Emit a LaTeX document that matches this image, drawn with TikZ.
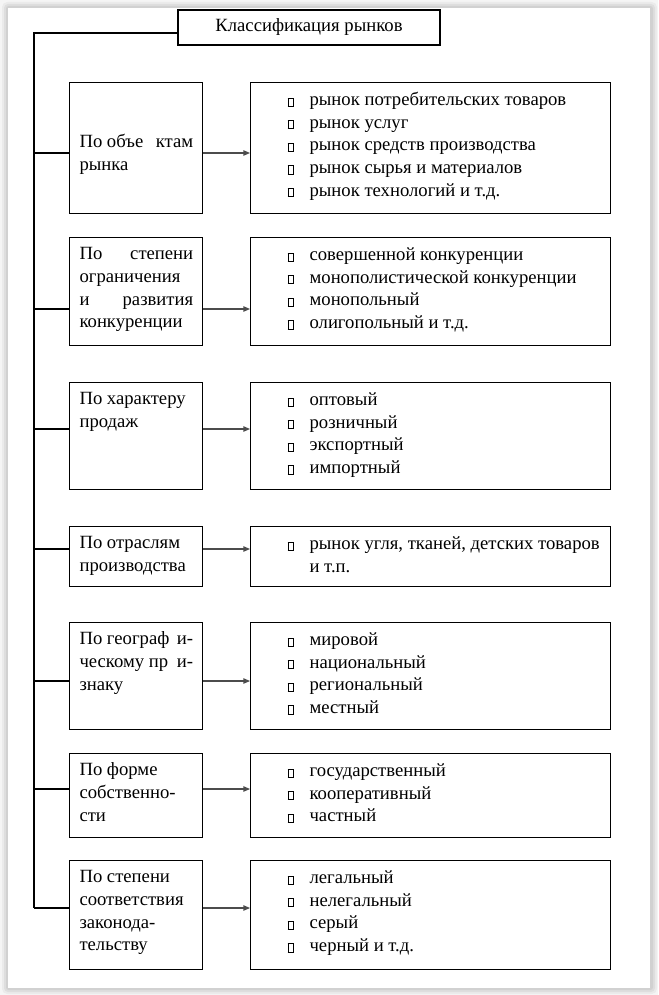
\documentclass[tikz,border=0pt]{standalone}
\usepackage{fontspec}
\setmainfont{Liberation Serif}
\usetikzlibrary{arrows.meta, positioning}

\newcommand{\sqmark}{{\setlength{\fboxsep}{0pt}\setlength{\fboxrule}{0.75pt}\fbox{\rule{0pt}{5.4pt}\rule{3.6pt}{0pt}}}}
\newcommand{\critcell}[3]{\parbox[c][#1][t]{99.75pt}{\fontsize{14pt}{16.9pt}\selectfont\vspace*{#2}\leftskip=7.5pt\rightskip=7pt\strut#3}}
\newcommand{\kindcell}[2]{\parbox[c][#1][t]{270pt}{\fontsize{14pt}{16.9pt}\selectfont\vspace*{5.7pt}\hspace*{27.75pt}\begin{tabular}[t]{@{}p{16.5pt}@{}l@{}}#2\end{tabular}}}

\begin{document}
\begin{tikzpicture}[
  x=0.75pt, y=-0.75pt,
  titlebox/.style={draw, line width=0.8pt, minimum width=196.5pt, minimum height=26.25pt, inner sep=0pt, font=\fontsize{14pt}{16.9pt}\selectfont},
  crit/.style={draw, line width=0.8pt, inner sep=0pt, anchor=north west},
  kind/.style={draw, line width=0.8pt, inner sep=0pt},
  link/.style={line width=0.8pt},
  edge/.style={-{Triangle[length=5pt,width=4pt]}, line width=0.9pt, draw=black!70}
]
\useasboundingbox (0,0) rectangle (658,995);
% page shadow
\fill[black!4] (0,0) rectangle (658,995);
\fill[black!8, rounded corners=4pt] (2,2) rectangle (657,994);
\fill[black!13, rounded corners=3pt] (4,4) rectangle (655,992);
\fill[black!18, rounded corners=2pt] (6,6) rectangle (653,990);
\fill[white] (8,8) rectangle (650,988);

\node[titlebox] (title) at (309,27.5) {Классификация рынков};

% criteria
\node[crit] (byobj) at (69,82) {\critcell{98.25pt}{37pt}{По объе\hfill ктам\\рынка}};
\node[crit] (bycomp) at (69,237) {\critcell{81pt}{5pt}{По\hfill степени\\ограничения\\и\hfill развития\\конкуренции}};
\node[crit] (bysale) at (69,382) {\critcell{80.25pt}{5pt}{По характеру\\продаж}};
\node[crit] (byind) at (69,526) {\critcell{45pt}{5pt}{По отраслям\\производства}};
\node[crit] (bygeo) at (69,622) {\critcell{80.25pt}{5pt}{По географ\hfill и-\\ческому пр\hfill и-\\знаку}};
\node[crit] (byown) at (69,753) {\critcell{63pt}{5pt}{По форме\\собственно-\\сти}};
\node[crit] (bylaw) at (69,860) {\critcell{81.75pt}{5pt}{По степени\\соответствия\\законода-\\тельству}};

% kinds of markets
\node[kind, right=35.25pt of byobj] (objlist) {\kindcell{98.25pt}{\sqmark & рынок потребительских товаров\\ \sqmark & рынок услуг\\ \sqmark & рынок средств производства\\ \sqmark & рынок сырья и материалов\\ \sqmark & рынок технологий и т.д.}};
\node[kind, right=35.25pt of bycomp] (complist) {\kindcell{81pt}{\sqmark & совершенной конкуренции\\ \sqmark & монополистической конкуренции\\ \sqmark & монопольный\\ \sqmark & олигопольный и т.д.}};
\node[kind, right=35.25pt of bysale] (salelist) {\kindcell{80.25pt}{\sqmark & оптовый\\ \sqmark & розничный\\ \sqmark & экспортный\\ \sqmark & импортный}};
\node[kind, right=35.25pt of byind] (indlist) {\kindcell{45pt}{\sqmark & рынок угля, тканей, детских товаров\\ & и т.п.}};
\node[kind, right=35.25pt of bygeo] (geolist) {\kindcell{80.25pt}{\sqmark & мировой\\ \sqmark & национальный\\ \sqmark & региональный\\ \sqmark & местный}};
\node[kind, right=35.25pt of byown] (ownlist) {\kindcell{63pt}{\sqmark & государственный\\ \sqmark & кооперативный\\ \sqmark & частный}};
\node[kind, right=35.25pt of bylaw] (lawlist) {\kindcell{81.75pt}{\sqmark & легальный\\ \sqmark & нелегальный\\ \sqmark & серый\\ \sqmark & черный и т.д.}};

% trunk and branches
\coordinate (top) at (34,33);
\coordinate (j1) at (34,153);
\coordinate (j2) at (34,309);
\coordinate (j3) at (34,429);
\coordinate (j4) at (34,549);
\coordinate (j5) at (34,681);
\coordinate (j6) at (34,789);
\coordinate (j7) at (34,908);

\draw[link] (title.west |- top) -- (top) -- (j7);
\draw[link] (j1) -- (j1 -| byobj.west);
\draw[link] (j2) -- (j2 -| bycomp.west);
\draw[link] (j3) -- (j3 -| bysale.west);
\draw[link] (j4) -- (j4 -| byind.west);
\draw[link] (j5) -- (j5 -| bygeo.west);
\draw[link] (j6) -- (j6 -| byown.west);
\draw[link] (j7) -- (j7 -| bylaw.west);

\draw[edge] (j1 -| byobj.east) -- (j1 -| objlist.west);
\draw[edge] (j2 -| bycomp.east) -- (j2 -| complist.west);
\draw[edge] (j3 -| bysale.east) -- (j3 -| salelist.west);
\draw[edge] (j4 -| byind.east) -- (j4 -| indlist.west);
\draw[edge] (j5 -| bygeo.east) -- (j5 -| geolist.west);
\draw[edge] (j6 -| byown.east) -- (j6 -| ownlist.west);
\draw[edge] (j7 -| bylaw.east) -- (j7 -| lawlist.west);
\end{tikzpicture}
\end{document}
